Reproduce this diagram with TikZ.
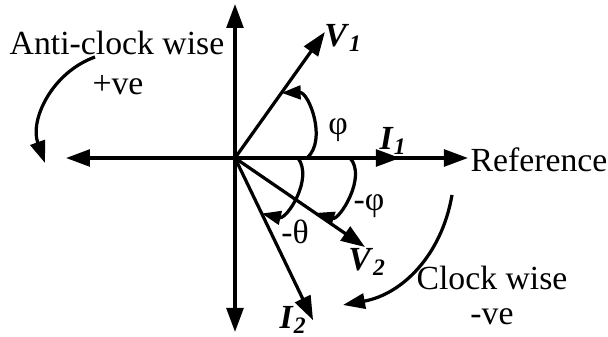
\documentclass[tikz,border=0pt]{standalone}
\usepackage{fontspec}
\setmainfont{Liberation Serif}
\usetikzlibrary{arrows.meta}

\newcommand{\phasor}[2]{\textbf{\textit{#1}}\textsubscript{\textbf{\textit{#2}}}}

\begin{document}
\begin{tikzpicture}[
    line width=2.3pt,
    vec/.style={-{Triangle[length=0.6cm,width=0.42cm]}},
    turn/.style={-{Triangle[length=0.55cm,width=0.38cm]}},
    angarc/.style={-{Triangle[length=0.48cm,width=0.34cm]}},
    txt/.style={font=\fontsize{24}{28}\selectfont, inner sep=0pt},
  ]
  \useasboundingbox (-5.875,-4.475) rectangle (9.325,3.95);

  % axes
  \coordinate (O) at (0,0);
  \coordinate (up) at (0,3.85);
  \coordinate (down) at (0,-4.35);
  \coordinate (left) at (-4.225,0);
  \coordinate (right) at (5.825,0);
  \draw[vec] (O) -- (up);
  \draw[vec] (O) -- (down);
  \draw[vec] (O) -- (left);
  \draw[vec] (O) -- (right);
  \node[txt, anchor=west] (ref) at (5.85,-0.05) {Reference};

  % phasors
  \coordinate (v1) at (54.5:3.87);
  \coordinate (i1) at (4.125,0);
  \coordinate (v2) at (-34.4:3.94);
  \coordinate (i2) at (-64.3:4.5);
  \draw[vec] (O) -- (v1);
  \draw[vec] (O) -- (i1);
  \draw[vec] (O) -- (v2);
  \draw[vec] (O) -- (i2);
  \node[txt] (v1lab) at (2.7,3.0) {\phasor{V}{1}};
  \node[txt] (i1lab) at (3.95,0.42) {\phasor{I}{1}};
  \node[txt] (v2lab) at (3.3,-2.6) {\phasor{V}{2}};
  \node[txt] (i2lab) at (1.45,-4.05) {\phasor{I}{2}};

  % angles
  \coordinate (phiA) at (1.8,0);
  \coordinate (phiB) at (54.5:2.0);
  \coordinate (mphiA) at (2.875,0);
  \coordinate (mphiB) at (-34.4:2.43);
  \coordinate (thA) at (1.575,0);
  \coordinate (thB) at (-64.3:1.54);
  \draw[angarc] (phiA) to[bend right=70] (phiB);
  \draw[angarc] (mphiA) to[bend left=75] (mphiB);
  \draw[angarc] (thA) to[bend left=70] (thB);
  \node[txt] (philab) at (2.575,0.7) {φ};
  \node[txt] (mphilab) at (3.35,-1.2) {-φ};
  \node[txt] (thlab) at (1.5,-1.85) {-θ};

  % sense of rotation
  \node[txt] (acw) at (-2.95,2.875) {Anti-clock wise};
  \node[txt] (pve) at (-2.925,1.825) {+ve};
  \coordinate (acwA) at (-3.5,2.525);
  \coordinate (acwB) at (-4.75,-0.125);
  \draw[turn] (acwA) to[bend right=45] (acwB);
  \node[txt] (cw) at (6.425,-3.0) {Clock wise};
  \node[txt] (nve) at (6.425,-3.975) {-ve};
  \coordinate (cwA) at (5.425,-0.925);
  \coordinate (cwB) at (2.7,-3.675);
  \draw[turn] (cwA) to[bend left=35] (cwB);
\end{tikzpicture}
\end{document}
